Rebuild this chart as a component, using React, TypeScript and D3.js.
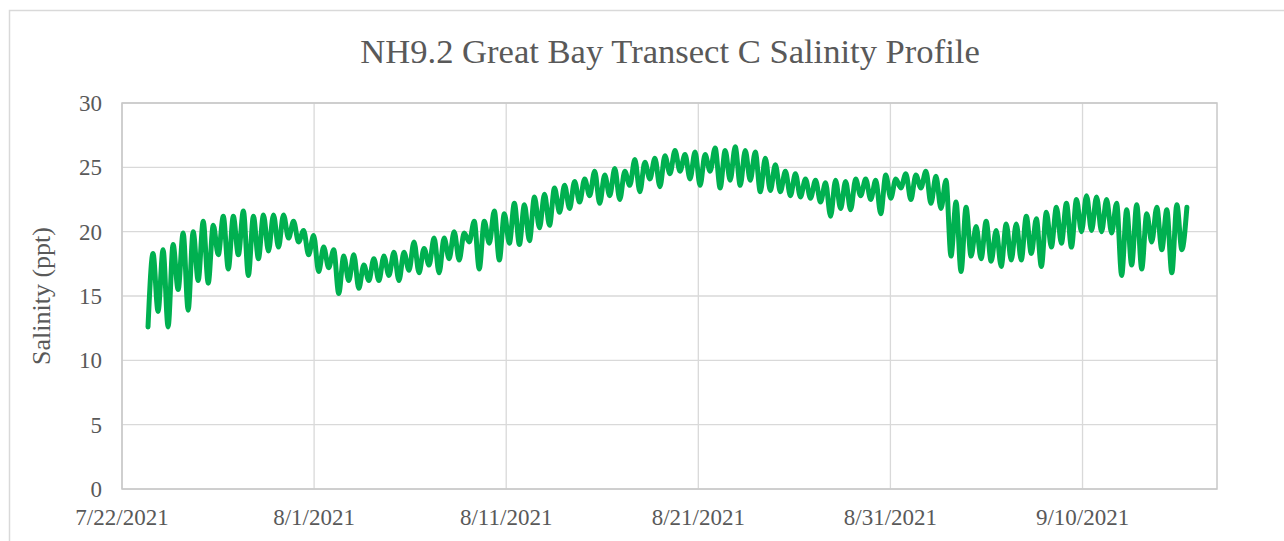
import React from 'react'
import * as d3 from 'd3'

// salinity (ppt), one low and one high per tidal cycle
const lows = [
  12.6, 13.8, 12.6, 15.5, 13.9, 16.2, 16.0, 18.2, 17.1, 18.2, 16.6, 17.9, 18.5,
  18.8, 19.5, 19.2, 18.2, 16.9, 17.2, 15.2, 16.2, 15.6, 16.2, 16.2, 16.6, 16.2, 17.0,
  16.8, 17.4, 16.8, 17.9, 17.8, 19.2, 17.1, 19.1, 17.8, 19.1, 19.0, 19.3, 20.3,
  20.5, 21.5, 21.8, 22.3, 22.8, 22.2, 22.8, 22.5, 23.6, 23.1, 24.1, 23.5, 24.5,
  24.7, 24.1, 23.6, 24.7, 23.4, 24.0, 23.6, 24.0, 23.1, 23.2, 23.1, 22.8, 22.7,
  22.6, 22.3, 21.2, 21.8, 21.7, 22.8, 22.5, 21.4, 22.6, 23.4, 22.5, 23.4, 22.2, 21.8,
  18.1, 16.9, 18.1, 17.9, 17.7, 17.3, 17.8, 17.8, 18.3, 17.3, 18.8, 19.1, 18.8, 20.0,
  20.1, 20.0, 19.9, 16.6, 17.4, 17.1, 19.2, 18.6, 16.8, 18.6,
]

const highs = [
  18.3, 18.6, 19.0, 19.9, 20.0, 20.8, 20.5, 21.2, 21.2, 21.6, 21.2, 21.3, 21.3,
  21.3, 20.8, 20.1, 19.7, 18.8, 18.6, 18.1, 18.2, 17.4, 17.9, 18.1, 18.4, 18.4, 19.2,
  18.7, 19.5, 19.5, 20.0, 19.9, 20.8, 20.8, 21.6, 21.4, 22.2, 22.1, 22.7, 22.9,
  23.4, 23.6, 23.9, 24.1, 24.7, 24.4, 24.9, 24.7, 25.6, 25.4, 25.7, 25.9, 26.3,
  26.0, 26.2, 26.0, 26.5, 26.3, 26.6, 26.3, 26.2, 25.7, 25.2, 24.7, 24.5, 24.1,
  24.0, 23.8, 24.0, 23.9, 24.1, 24.1, 24.0, 24.4, 24.1, 24.5, 24.4, 24.7, 24.3, 24.0,
  22.3, 21.9, 20.4, 20.8, 20.1, 20.6, 20.6, 21.2, 21.0, 21.5, 21.9, 22.2, 22.5, 22.8,
  22.7, 22.5, 22.2, 21.7, 22.1, 21.4, 21.9, 21.7, 22.1, 21.9,
]

const firstReading = new Date(2021, 6, 23, 8, 30)
const readingStepHours = 6.27

const yTicks = [0, 5, 10, 15, 20, 25, 30]
const xTicks = [
  new Date(2021, 6, 22),
  new Date(2021, 7, 1),
  new Date(2021, 7, 11),
  new Date(2021, 7, 21),
  new Date(2021, 7, 31),
  new Date(2021, 8, 10),
]
const xEnd = new Date(2021, 8, 17)

const W = 1284
const H = 541
const plot = { left: 122, right: 1217, top: 103, bottom: 489 }
const serif = '"Liberation Serif", "Times New Roman", serif'
const textColor = '#595959'
const gridColor = '#d9d9d9'

export default function App() {
  const values: number[] = []
  lows.forEach((lo, i) => {
    values.push(lo)
    values.push(highs[i])
  })
  const series = values.map((v, i) => ({
    t: new Date(firstReading.getTime() + i * readingStepHours * 3600 * 1000),
    v,
  }))

  const x = d3.scaleTime().domain([xTicks[0], xEnd]).range([plot.left, plot.right])
  const y = d3.scaleLinear().domain([0, 30]).range([plot.bottom, plot.top])

  const line = d3
    .line<{ t: Date; v: number }>()
    .x(d => x(d.t))
    .y(d => y(d.v))
    .curve(d3.curveMonotoneX)

  const fmt = d3.timeFormat('%-m/%-d/%Y')

  return (
    <svg
      width={W}
      height={H}
      style={{ position: 'absolute', left: 0, top: 0, background: '#fff' }}
    >
      <rect x={9.5} y={10.5} width={W} height={H} fill="#fff" stroke={gridColor} strokeWidth={1.5} />

      <text x={670} y={63} textAnchor="middle" fontFamily={serif} fontSize={34.6} fill={textColor}>
        NH9.2 Great Bay Transect C Salinity Profile
      </text>

      {yTicks.map(t => (
        <line key={'gy' + t} x1={plot.left} x2={plot.right} y1={y(t)} y2={y(t)} stroke={gridColor} strokeWidth={1.3} />
      ))}
      {xTicks.map(t => (
        <line key={'gx' + t.getTime()} x1={x(t)} x2={x(t)} y1={plot.top} y2={plot.bottom} stroke={gridColor} strokeWidth={1.3} />
      ))}
      <rect
        x={plot.left}
        y={plot.top}
        width={plot.right - plot.left}
        height={plot.bottom - plot.top}
        fill="none"
        stroke="#c8c8c8"
        strokeWidth={1.5}
      />

      <path
        d={line(series) ?? ''}
        fill="none"
        stroke="#00b050"
        strokeWidth={5}
        strokeLinejoin="round"
        strokeLinecap="round"
      />

      {yTicks.map(t => (
        <text key={'ty' + t} x={102} y={y(t)} dy="0.35em" textAnchor="end" fontFamily={serif} fontSize={23} fill={textColor}>
          {t}
        </text>
      ))}
      {xTicks.map(t => (
        <text key={'tx' + t.getTime()} x={x(t)} y={525} textAnchor="middle" fontFamily={serif} fontSize={23} fill={textColor}>
          {fmt(t)}
        </text>
      ))}

      <text
        transform={`translate(50, ${(plot.top + plot.bottom) / 2}) rotate(-90)`}
        textAnchor="middle"
        fontFamily={serif}
        fontSize={26}
        fill={textColor}
      >
        Salinity (ppt)
      </text>
    </svg>
  )
}
